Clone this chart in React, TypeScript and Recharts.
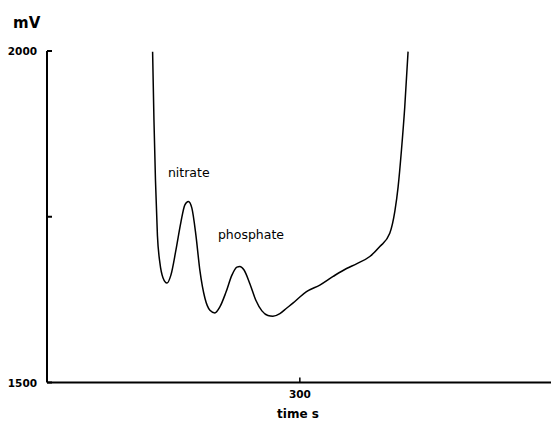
import { LineChart, Line, XAxis, YAxis, ReferenceDot } from "recharts";

// time (s) and potential (mV)
const times = [
  125.3, 126.9, 128.7, 131.0, 134.0, 137.6, 142.3, 147.0, 153.0, 158.9, 163.6,
  167.8, 171.9, 176.7, 181.4, 187.4, 193.3, 199.2, 205.1, 212.3, 219.4, 225.3,
  228.9, 233.6, 240.7, 247.8, 255.0, 262.1, 268.0, 276.3, 284.2, 292.1, 300.0,
  307.9, 323.7, 339.5, 355.4, 367.2, 383.0, 394.9, 406.7, 412.7, 416.6, 420.6,
  424.5, 428.4,
];
const millivolts = [
  1999, 1896, 1805, 1722, 1680, 1658, 1650, 1662, 1700, 1742, 1768, 1773, 1763,
  1722, 1669, 1627, 1609, 1605, 1614, 1636, 1662, 1674, 1675, 1670, 1649, 1624,
  1608, 1601, 1600, 1604, 1612, 1620, 1629, 1637, 1647, 1660, 1672, 1679, 1690,
  1705, 1725, 1758, 1795, 1851, 1916, 1999,
];

const xTicks = [300];
const yTicks = [1500, 1750, 2000];
const yLabelled = [1500, 2000];

const peakLabels = [
  { t: 143.5, v: 1810, text: "nitrate" },
  { t: 202.8, v: 1716, text: "phosphate" },
];

const data = times.map((t, i) => ({ t, mv: millivolts[i] }));

const font = "'DejaVu Sans', sans-serif";

function YTick({ x, y, payload }: any) {
  return (
    <g>
      <line x1={x} y1={y} x2={x + 5} y2={y} stroke="#000" strokeWidth={2} />
      {yLabelled.includes(payload.value) ? (
        <text
          x={x - 10}
          y={y + 4}
          textAnchor="end"
          fontFamily={font}
          fontWeight="bold"
          fontSize={10.5}
          fill="#000"
        >
          {payload.value}
        </text>
      ) : null}
    </g>
  );
}

function XTick({ x, y, payload }: any) {
  return (
    <g>
      <line x1={x} y1={y} x2={x} y2={y - 5} stroke="#000" strokeWidth={1.5} />
      <text
        x={x}
        y={y + 15}
        textAnchor="middle"
        fontFamily={font}
        fontWeight="bold"
        fontSize={10.5}
        fill="#000"
      >
        {payload.value}
      </text>
    </g>
  );
}

export default function App() {
  return (
    <div style={{ position: "absolute", left: 0, top: 0, background: "#fff" }}>
      <LineChart
        width={551}
        height={427}
        data={data}
        margin={{ top: 51, right: 0, bottom: 0, left: 0 }}
      >
        <XAxis
          dataKey="t"
          type="number"
          domain={[0, 598]}
          ticks={xTicks}
          tick={<XTick />}
          tickLine={false}
          tickSize={0}
          tickMargin={0}
          height={44.5}
          axisLine={{ stroke: "#000", strokeWidth: 2 }}
        />
        <YAxis
          type="number"
          domain={[1500, 2000]}
          ticks={yTicks}
          tick={<YTick />}
          tickLine={false}
          tickSize={0}
          tickMargin={0}
          width={47}
          axisLine={{ stroke: "#000", strokeWidth: 2 }}
        />
        <Line
          dataKey="mv"
          type="monotone"
          stroke="#000"
          strokeWidth={1.5}
          dot={false}
          isAnimationActive={false}
        />
        {peakLabels.map((p) => (
          <ReferenceDot
            key={p.text}
            x={p.t}
            y={p.v}
            r={0}
            shape={(s: any) => (
              <text
                x={s.cx}
                y={s.cy}
                fontFamily={font}
                fontSize={12.5}
                fill="#000"
              >
                {p.text}
              </text>
            )}
          />
        ))}
        <text
          x={13}
          y={28}
          fontFamily={font}
          fontWeight="bold"
          fontSize={15}
          fill="#000"
        >
          mV
        </text>
        <text
          x={298}
          y={418}
          textAnchor="middle"
          fontFamily={font}
          fontWeight="bold"
          fontSize={12}
          fill="#000"
        >
          time s
        </text>
      </LineChart>
    </div>
  );
}
